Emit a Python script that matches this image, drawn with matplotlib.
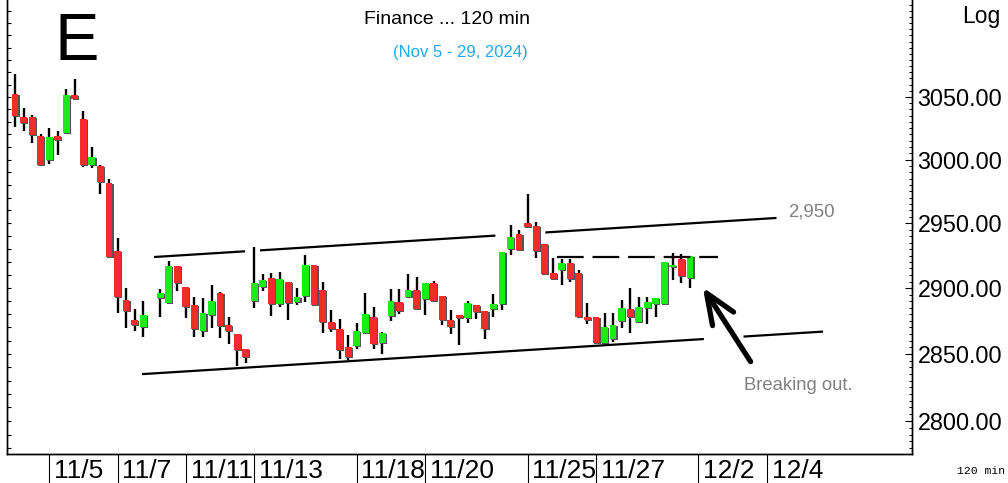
import matplotlib
matplotlib.use('Agg')
import matplotlib.pyplot as plt
import matplotlib.ticker as mticker
import matplotlib.transforms as mtransforms
from matplotlib.patches import Rectangle
import numpy as np

# 120 min bars, 4 per day from 11/4 to 11/29 (bar 16 has no print)
nan = np.nan
opens = [3052.6, 3033.8, 3033.8, 3018.8, 2999.7, 3018.8, 3021.0, 3051.8, 3032.4, 2995.5,
         2994.9, 2981.9, 2928.8, 2890.7, 2875.7, 2870.6, nan, 2892.6, 2888.4, 2917.0,
         2900.5, 2887.1, 2867.4, 2879.5, 2896.4, 2871.9, 2865.1, 2853.5, 2890.4, 2901.0,
         2907.5, 2887.9, 2904.6, 2889.1, 2893.9, 2917.8, 2898.5, 2874.4, 2868.7, 2855.0,
         2856.2, 2865.6, 2877.8, 2858.0, 2878.7, 2889.6, 2893.4, 2898.5, 2891.4, 2904.1,
         2893.9, 2875.7, 2879.5, 2877.0, 2886.9, 2882.5, 2883.7, 2887.5, 2929.9, 2941.7,
         2950.2, 2948.1, 2934.0, 2911.4, 2913.9, 2919.1, 2911.9, 2878.2, 2878.2, 2858.5,
         2861.1, 2875.2, 2883.8, 2874.4, 2884.6, 2887.9, 2887.9, 2916.5, 2922.7, 2908.0]
highs = [3068.4, 3041.2, 3035.4, 3020.4, 3025.0, 3022.8, 3056.4, 3064.4, 3039.1, 3010.0,
         2995.8, 2984.8, 2938.9, 2900.2, 2883.8, 2890.4, nan, 2899.2, 2920.7, 2917.0,
         2900.5, 2893.2, 2892.4, 2902.1, 2897.2, 2877.8, 2865.1, 2853.5, 2931.5, 2910.6,
         2911.9, 2912.6, 2904.6, 2899.8, 2925.5, 2917.8, 2904.9, 2883.3, 2876.5, 2864.3,
         2873.2, 2896.0, 2885.4, 2866.8, 2899.0, 2899.0, 2910.8, 2908.8, 2904.1, 2905.6,
         2893.9, 2883.3, 2879.5, 2890.4, 2886.9, 2882.5, 2895.4, 2927.8, 2948.9, 2944.6,
         2973.2, 2950.8, 2934.0, 2923.0, 2922.2, 2922.2, 2913.9, 2888.4, 2878.2, 2881.3,
         2881.3, 2890.9, 2899.8, 2893.4, 2892.9, 2892.6, 2920.1, 2926.8, 2926.1, 2925.0]
lows = [3026.3, 3023.1, 3013.0, 2995.5, 2996.5, 3003.7, 3020.4, 3047.8, 2994.4, 2993.3,
        2973.0, 2923.7, 2880.8, 2869.4, 2867.4, 2863.0, nan, 2878.2, 2887.9, 2897.7,
        2877.0, 2862.8, 2862.6, 2869.4, 2861.8, 2857.5, 2840.8, 2843.3, 2884.6, 2898.0,
        2878.7, 2885.4, 2875.7, 2887.1, 2889.6, 2886.3, 2866.1, 2866.8, 2846.1, 2845.4,
        2853.5, 2865.1, 2853.5, 2849.9, 2875.2, 2880.3, 2892.9, 2883.3, 2879.3, 2890.4,
        2871.9, 2865.1, 2856.7, 2873.7, 2876.2, 2861.1, 2878.0, 2883.3, 2925.5, 2929.4,
        2946.1, 2923.0, 2910.1, 2906.2, 2902.3, 2904.9, 2877.8, 2872.7, 2858.0, 2858.0,
        2859.2, 2869.4, 2865.6, 2873.2, 2872.7, 2877.8, 2887.1, 2906.1, 2903.6, 2900.2]
closes = [3034.8, 3029.0, 3019.6, 2995.5, 3018.0, 3015.6, 3051.6, 3048.4, 2995.5, 3001.8,
          2982.7, 2924.2, 2893.4, 2882.8, 2871.9, 2879.5, nan, 2896.4, 2917.0, 2903.7,
          2885.4, 2868.7, 2881.3, 2890.4, 2871.2, 2867.6, 2852.9, 2847.4, 2903.6, 2906.1,
          2887.9, 2906.7, 2888.4, 2892.9, 2917.8, 2887.1, 2874.4, 2868.7, 2852.6, 2847.4,
          2867.6, 2880.3, 2857.3, 2865.6, 2890.4, 2882.8, 2898.5, 2883.8, 2904.1, 2890.4,
          2875.7, 2870.2, 2877.5, 2888.4, 2882.0, 2868.7, 2887.9, 2927.8, 2939.2, 2929.4,
          2947.4, 2928.8, 2910.6, 2907.2, 2919.1, 2906.7, 2877.8, 2875.7, 2858.5, 2870.2,
          2871.9, 2884.6, 2877.8, 2885.8, 2889.1, 2892.6, 2920.1, 2917.6, 2909.3, 2925.0]

date_labels = ['11/5', '11/7', '11/11', '11/13', '11/18', '11/20', '11/25', '11/27', '12/2', '12/4']
date_bars = [4, 12, 20, 28, 40, 48, 60, 68, 80, 88]

price_ticks = [2800, 2850, 2900, 2950, 3000, 3050]

# channel lines: (bar, price) end points and the drawn stretches
upper_line = [(16.4, 2923.9), (89.0, 2954.1)]
upper_pieces = [(16.4, 26.8), (28.8, 56.1), (62.2, 89.0)]
lower_line = [(15.0, 2834.9), (94.45, 2866.8)]
lower_pieces = [(15.0, 80.5), (85.4, 94.45)]
resist_level = 2923.6
resist_span = (63.4, 82.3)
arrow_head = (80.5, 2900.6)
arrow_tail = (86.1, 2844.2)

UP = '#19ec19'
DOWN = '#f02c2c'

fig = plt.figure(figsize=(10.08, 4.83), dpi=100)
ax = fig.add_axes([7 / 1008, 1 - 454 / 483, 905 / 1008, 454 / 483])
ax.set_yscale('log')
ymin, ymax = 2775.7, 3129.1
ax.set_ylim(ymin, ymax)
ax.set_xlim(-0.936, 104.99)

shadow = mtransforms.offset_copy(ax.transData, fig=fig, x=1.2, y=-1.0, units='dots')
w = 0.8
for i in range(len(opens)):
    o, h, l, c = opens[i], highs[i], lows[i], closes[i]
    if np.isnan(o):
        continue
    ax.vlines(i, l, h, color='black', lw=1.7, zorder=2)
    lo, hi = min(o, c), max(o, c)
    col = UP if c >= o else DOWN
    ax.add_patch(Rectangle((i - w / 2, lo), w, hi - lo, facecolor='#555555',
                           edgecolor='none', transform=shadow, zorder=3))
    ax.add_patch(Rectangle((i - w / 2, lo), w, hi - lo, facecolor=col,
                           edgecolor='none', zorder=4))


def line_price(pts, x):
    (x0, p0), (x1, p1) = pts
    t = (x - x0) / (x1 - x0)
    return np.exp(np.log(p0) + t * (np.log(p1) - np.log(p0)))


for a, b in upper_pieces:
    xs = np.array([a, b])
    ax.plot(xs, line_price(upper_line, xs), color='black', lw=1.6, zorder=5)
for a, b in lower_pieces:
    xs = np.array([a, b])
    ax.plot(xs, line_price(lower_line, xs), color='black', lw=1.6, zorder=5)

ax.plot(resist_span, [resist_level, resist_level], color='black', lw=1.6,
        dashes=(12, 4), zorder=5)

ax.annotate('', xy=arrow_head, xytext=arrow_tail,
            arrowprops=dict(arrowstyle='->,head_length=1.1,head_width=0.45',
                            mutation_scale=20, lw=3.8, color='black',
                            shrinkA=0, shrinkB=0))

ax.text(90.5, 2959.1, '2,950', color='#808080', fontsize=13.4,
        family='Liberation Sans', ha='left', va='center')
ax.text(85.3, 2826.6, 'Breaking out.', color='#808080', fontsize=13.3,
        family='Liberation Sans', ha='left', va='center')

# left axis: small inward ticks, no labels
ax.yaxis.set_major_locator(mticker.MultipleLocator(10))
ax.yaxis.set_major_formatter(mticker.NullFormatter())
ax.yaxis.set_minor_locator(mticker.NullLocator())
ax.tick_params(axis='y', direction='in', length=3, width=0.8, left=True, right=False)

# right axis with the price labels
ax2 = ax.twinx()
ax2.set_yscale('log')
ax2.set_ylim(ymin, ymax)
ax2.yaxis.set_major_locator(mticker.FixedLocator(price_ticks))
ax2.yaxis.set_major_formatter(mticker.FormatStrFormatter('%.2f'))
ax2.yaxis.set_minor_locator(mticker.MultipleLocator(5))
ax2.yaxis.set_minor_formatter(mticker.NullFormatter())
ax2.tick_params(axis='y', which='major', direction='in', length=5, width=0.8,
                pad=4, labelsize=16.8)
ax2.tick_params(axis='y', which='minor', direction='in', length=2.5, width=0.7)
for lab in ax2.get_yticklabels():
    lab.set_family('Liberation Sans')

# date ticks hang below the axis, labels sit to the right of them
ax.set_xticks(date_bars)
ax.set_xticklabels([''] * len(date_bars))
ax.tick_params(axis='x', direction='out', length=22, width=0.8)
tr = mtransforms.blended_transform_factory(ax.transData, ax.transAxes)
for b, lab in zip(date_bars, date_labels):
    ax.text(b + 0.55, -0.037, lab, transform=tr, ha='left', va='center',
            fontsize=19, family=['Liberation Sans Narrow', 'Liberation Sans'])

for a in (ax, ax2):
    a.spines['top'].set_visible(False)
    for s in ('left', 'right', 'bottom'):
        a.spines[s].set_linewidth(1.0)

fig.text(55 / 1008, 1 - 60 / 483, 'E', fontsize=48, family='Liberation Sans',
         ha='left', va='baseline')
fig.text(447 / 1008, 1 - 19 / 483, 'Finance ... 120 min', fontsize=14,
         family='Liberation Sans', ha='center', va='center')
fig.text(460 / 1008, 1 - 52 / 483, '(Nov 5 - 29, 2024)', fontsize=12,
         family='Liberation Sans', color='#1fa8ee', ha='center', va='center')
fig.text(1000 / 1008, 1 - 16 / 483, 'Log', fontsize=16.5, family='Liberation Sans',
         ha='right', va='center')
fig.text(1005 / 1008, 1 - 471 / 483, '120 min', fontsize=8.2, family='Liberation Mono',
         ha='right', va='center')

fig.savefig('out.png', dpi=100)
